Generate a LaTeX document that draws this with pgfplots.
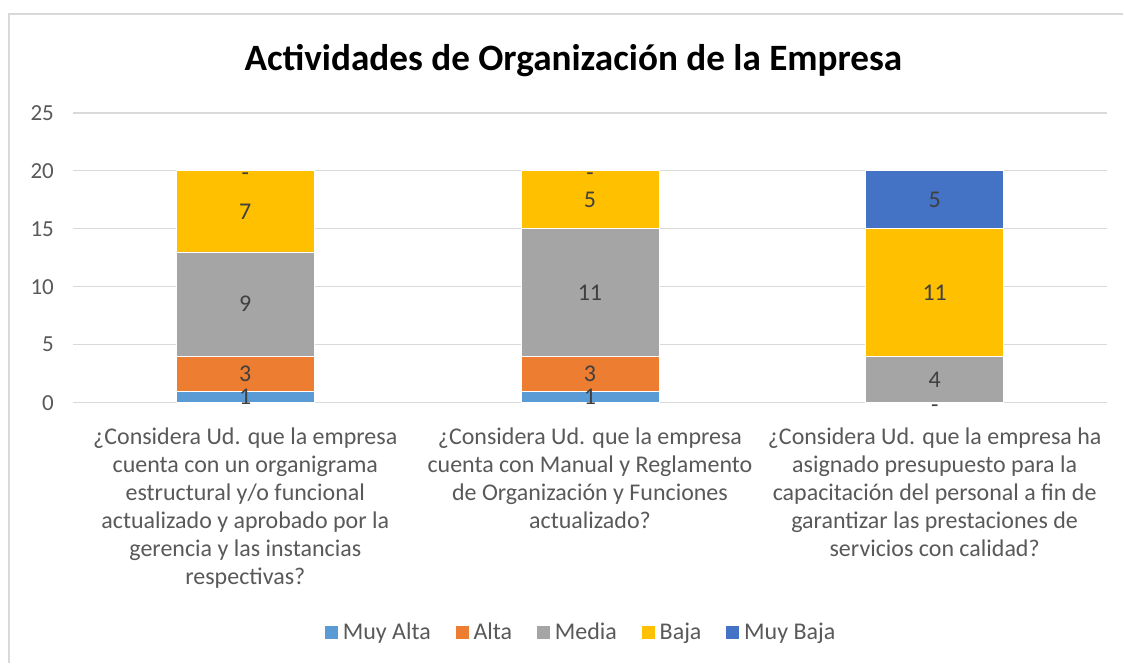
\documentclass[border=0pt]{standalone}
\usepackage{pgfplots}
\pgfplotsset{compat=1.18}
\usepackage{pgfplotstable}
\usepackage{fontspec}
\setmainfont{Carlito}
\definecolor{cMA}{HTML}{5B9BD5}
\definecolor{cA}{HTML}{ED7D31}
\definecolor{cM}{HTML}{A5A5A5}
\definecolor{cB}{HTML}{FFC000}
\definecolor{cMB}{HTML}{4472C4}
\definecolor{gridc}{HTML}{D9D9D9}
\definecolor{txt}{HTML}{595959}
\definecolor{lbl}{HTML}{404040}
% series values per category
\pgfplotstableread{
x ma a m b mb
0 1 3 9 7 0
1 1 3 11 5 0
2 0 0 4 11 5
}\datatab
% data labels: segment centres and texts
\pgfplotstableread{
x y l
0 0.5 1
0 2.5 3
0 8.5 9
0 16.5 7
0 19.5 -
1 0.5 1
1 2.5 3
1 9.5 11
1 17.5 5
1 19.5 -
2 -0.5 -
2 2 4
2 9.5 11
2 17.5 5
}\labtab
\pgfplotsset{common/.style={
  at={(0pt,0pt)}, anchor=south west,
  scale only axis, width=517.5pt, height=145pt,
  xmin=-0.5, xmax=2.5, ymin=0, ymax=25}}
\begin{document}
\begin{tikzpicture}
\fill[white] (-36.5pt,-130.5pt) rectangle (525.5pt,201.5pt);
\draw[gridc, line width=1pt] (-31.75pt,-130.5pt) -- (-31.75pt,194.25pt) -- (525.5pt,194.25pt);
\begin{axis}[
  common,
  ybar stacked, bar width=69pt,
  ytick={0,5,...,25},
  xtick={0,1,2},
  xticklabels={
    {¿Considera Ud. que la empresa\\cuenta con un organigrama\\estructural y/o funcional\\actualizado y aprobado por la\\gerencia y las instancias\\respectivas?},
    {¿Considera Ud. que la empresa\\cuenta con Manual y Reglamento\\de Organización y Funciones\\actualizado?},
    {¿Considera Ud. que la empresa ha\\asignado presupuesto para la\\capacitación del personal a fin de\\garantizar las prestaciones de\\servicios con calidad?}},
  xticklabel style={align=center, font=\fontsize{12}{14}\selectfont, text=txt, yshift=-9pt},
  yticklabel style={font=\fontsize{11.5}{13}\selectfont, text=txt, xshift=-6pt},
  /pgf/number format/assume math mode=true,
  major tick length=0pt,
  axis line style={draw=none},
  ymajorgrids, grid style={gridc, line width=0.6pt},
  title={Actividades de Organización de la Empresa},
  title style={at={(0.484,1.104)}, anchor=base, font=\bfseries\fontsize{18.6}{22}\selectfont, text=black},
  legend columns=5,
  legend style={at={(0.492,-0.793)}, anchor=center, draw=none, fill=none, font=\fontsize{12}{14}\selectfont, text=txt,
    /tikz/every even column/.append style={column sep=10pt}},
  legend image code/.code={\fill[#1] (0pt,-3.5pt) rectangle (7pt,3.5pt);},
]
\addplot[fill=cMA, draw=white, line width=0.4pt] table[x=x,y=ma] {\datatab};
\addplot[fill=cA, draw=white, line width=0.4pt] table[x=x,y=a] {\datatab};
\addplot[fill=cM, draw=white, line width=0.4pt] table[x=x,y=m] {\datatab};
\addplot[fill=cB, draw=white, line width=0.4pt] table[x=x,y=b] {\datatab};
\addplot[fill=cMB, draw=white, line width=0.4pt] table[x=x,y=mb] {\datatab};
\legend{Muy Alta, Alta, Media, Baja, Muy Baja}
\end{axis}
\begin{axis}[common, hide axis, clip=false]
\addplot[draw=none, mark=none, point meta=explicit symbolic,
  nodes near coords={\pgfplotspointmeta},
  every node near coord/.append style={anchor=center, font=\fontsize{12}{14}\selectfont, text=lbl}]
  table[x=x,y=y,meta=l] {\labtab};
\end{axis}
\end{tikzpicture}
\end{document}
